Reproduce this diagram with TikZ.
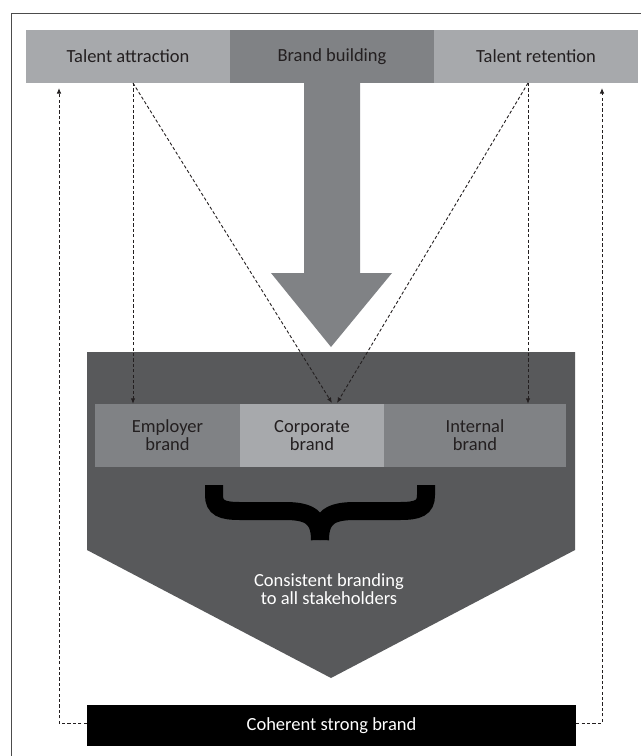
\documentclass[tikz,border=0pt]{standalone}
\usepackage{fontspec}
\setmainfont{Carlito}
\usetikzlibrary{arrows.meta}
\definecolor{palegrey}{HTML}{A7A9AC}
\definecolor{midgrey}{HTML}{808285}
\definecolor{deepgrey}{HTML}{58595B}
\definecolor{ink}{HTML}{231F20}

\begin{document}
\begin{tikzpicture}[x=1pt, y=-1pt,
    box/.style={inner sep=0pt, text=ink, align=center, font=\fontsize{18.5}{18}\selectfont},
    flow/.style={ink, line width=0.9pt, dash pattern=on 3.2pt off 2.2pt, -{Latex[length=5.5pt,width=4.5pt]}}]
    \useasboundingbox (0,0) rectangle (641,756);
    \draw[line width=1pt, black!70] (11,756) -- (11,13) -- (641,13);

    % big arrow and the pentagon
    \fill[midgrey] (304,83) -- (360,83) -- (360,273) -- (392,273) -- (331,347) -- (271,273) -- (304,273) -- cycle;
    \fill[deepgrey] (87,352) -- (575,352) -- (575,550) -- (331,678) -- (87,550) -- cycle;

    \node (attr) at (128,56.5) [box, fill=palegrey, minimum width=204pt, minimum height=53pt] {Talent attraction};
    \node (build) at (332,56.5) [box, fill=midgrey, minimum width=204pt, minimum height=53pt] {Brand building};
    \node (ret) at (536,56.5) [box, fill=palegrey, minimum width=204pt, minimum height=53pt] {Talent retention};

    \node (emp) at (167.5,435.5) [box, fill=midgrey, minimum width=145pt, minimum height=63pt] {Employer\\brand};
    \node (corp) at (312,435.5) [box, fill=palegrey, minimum width=144pt, minimum height=63pt] {Corporate\\brand};
    \node (int) at (475,435.5) [box, fill=midgrey, minimum width=182pt, minimum height=63pt] {Internal\\brand};

    % brace
    \draw[line width=18pt, black] (214,485) -- (214,495) .. controls (214,508) and (222,511) .. (240,511) -- (285,511) .. controls (309,511) and (320,517) .. (320,540);
    \draw[line width=18pt, black] (426,485) -- (426,495) .. controls (426,508) and (418,511) .. (400,511) -- (355,511) .. controls (331,511) and (320,517) .. (320,540);

    \node (cons) at (329,589) [box, text=white] {Consistent branding\\to all stakeholders};
    \node (bar) at (331.5,725.5) [box, fill=black, text=white, minimum width=489pt, minimum height=41pt] {Coherent strong brand};

    \coordinate (ta) at (133,83);
    \coordinate (tr) at (528,83);
    \coordinate (ca) at (332,403);
    \coordinate (cb) at (337,403);
    \coordinate (lu) at (59,88);
    \coordinate (ru) at (602,88);

    \draw[flow] (ta) -- (ta |- emp.north);
    \draw[flow] (ta) -- (ca);
    \draw[flow] (tr) -- (cb);
    \draw[flow] (tr) -- (tr |- int.north);
    \draw[flow] (bar.west |- 0,723) -| (lu);
    \draw[flow] (bar.east |- 0,723) -| (ru);
\end{tikzpicture}
\end{document}
